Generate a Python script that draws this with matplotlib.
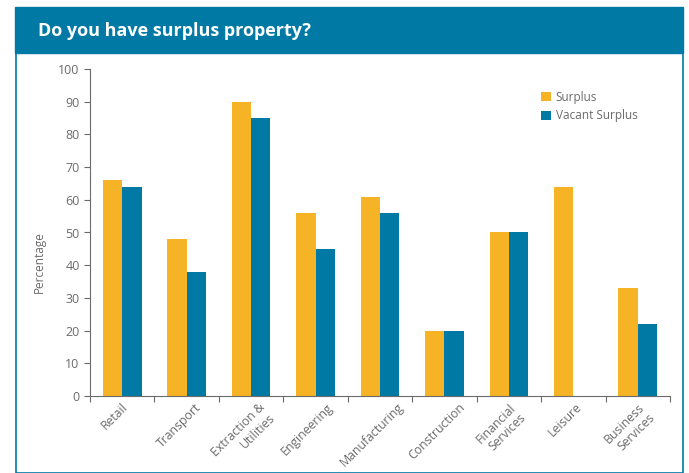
import matplotlib
matplotlib.use("Agg")
import matplotlib.pyplot as plt
from matplotlib.patches import Rectangle
import matplotlib.transforms as mtransforms
import numpy as np

categories = ["Retail", "Transport", "Extraction &\nUtilities", "Engineering",
              "Manufacturing", "Construction", "Financial\nServices", "Leisure",
              "Business\nServices"]
surplus = [66, 48, 90, 56, 61, 20, 50, 64, 33]
vacant_surplus = [64, 38, 85, 45, 56, 20, 50, 0, 22]
series_names = ["Surplus", "Vacant Surplus"]
yticks = [0, 10, 20, 30, 40, 50, 60, 70, 80, 90, 100]

ORANGE = "#F6B325"
TEAL = "#0079A5"
GRAY = "#6b6b6b"
plt.rcParams['font.family'] = ['Open Sans', 'DejaVu Sans']

fig = plt.figure(figsize=(6.89, 4.73), dpi=100)
W, H = 689, 473

def fx(px):
    return px / W

def fy(py):
    return 1 - py / H

# header banner
fig.patches.append(Rectangle((fx(15), fy(53)), fx(683) - fx(15), fy(7) - fy(53),
                             transform=fig.transFigure, color=TEAL, zorder=0))
# box border
fig.patches.append(Rectangle((fx(15.5), fy(473)), fx(682.5) - fx(15.5), fy(53) - fy(473),
                             transform=fig.transFigure, fill=False, edgecolor=TEAL,
                             linewidth=1.2, zorder=0))
fig.text(fx(38), fy(31), "Do you have surplus property?", color="white",
         fontsize=13, fontweight="bold", va="center", ha="left")

ax = fig.add_axes([fx(90), fy(396), fx(670) - fx(90), fy(69) - fy(396)])
x = np.arange(len(categories))
bw = 0.3
ax.bar(x - bw / 2, surplus, width=bw, color=ORANGE, label=series_names[0])
ax.bar(x + bw / 2, vacant_surplus, width=bw, color=TEAL, label=series_names[1])

ax.set_xlim(-0.5, len(categories) - 0.5)
ax.set_ylim(0, 100)
ax.set_yticks(yticks)
ax.tick_params(axis='y', colors=GRAY, labelsize=9, length=4, width=0.8, direction='out')
ax.set_xticks(np.arange(len(categories) + 1) - 0.5)
ax.set_xticklabels([])
ax.tick_params(axis='x', colors=GRAY, length=4, width=0.8, direction='out')
ax.set_xticks(x, minor=True)
ax.set_xticklabels(categories, minor=True, rotation=45, ha='center', va='top',
                   fontsize=8.8, color=GRAY, multialignment='right')
ax.tick_params(axis='x', which='minor', length=0, pad=3.5)
offset = mtransforms.ScaledTranslation(-0.08, 0, fig.dpi_scale_trans)
for lab in ax.get_xticklabels(minor=True):
    lab.set_transform(lab.get_transform() + offset)

for s in ["top", "right"]:
    ax.spines[s].set_visible(False)
for s in ["left", "bottom"]:
    ax.spines[s].set_color(GRAY)
    ax.spines[s].set_linewidth(0.8)

ax.set_ylabel("Percentage", color=GRAY, fontsize=8.5)
ax.yaxis.set_label_coords(-0.076, 0.41)

leg = ax.legend(loc='upper left', bbox_to_anchor=(0.76, 0.965), frameon=False,
                fontsize=8.5, handlelength=0.8, handleheight=0.8,
                handletextpad=0.4, labelspacing=0.45)
for t in leg.get_texts():
    t.set_color(GRAY)

fig.savefig("out.png", dpi=100)
